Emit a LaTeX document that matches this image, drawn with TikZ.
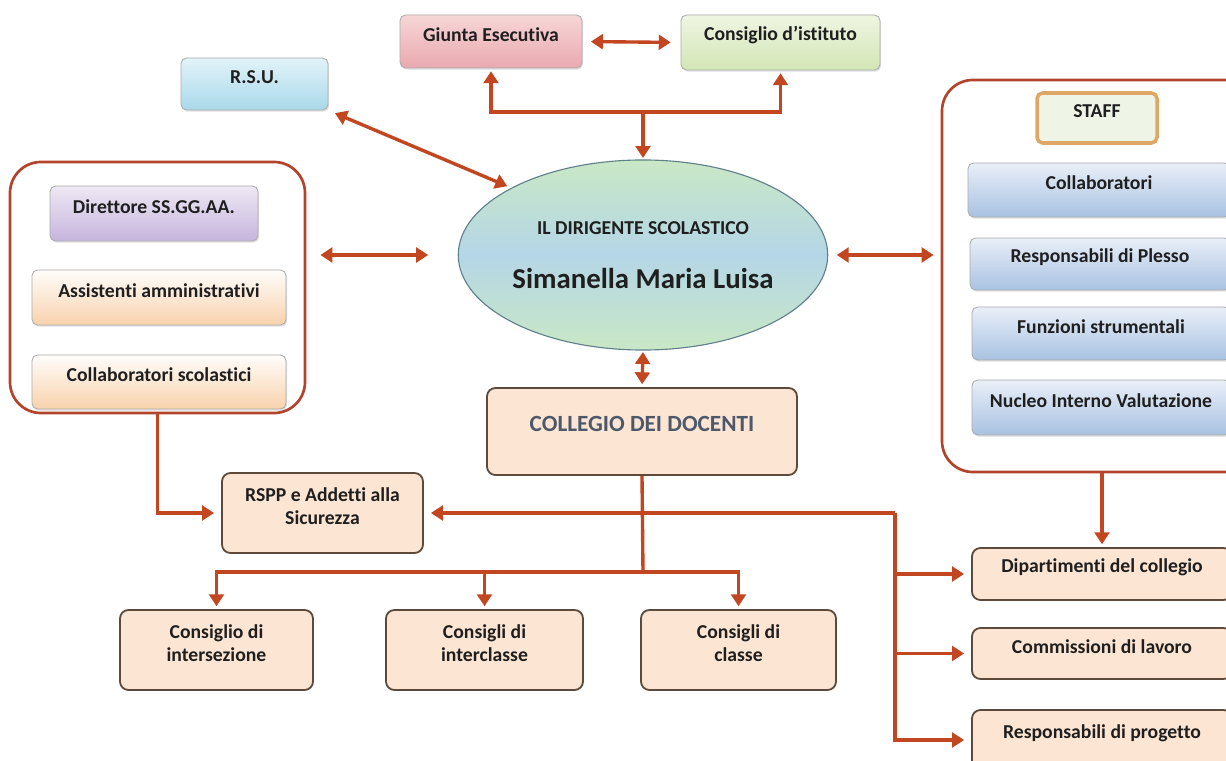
\documentclass[tikz,border=0pt]{standalone}
\usepackage{fontspec}
\setmainfont{Carlito}[Ligatures=NoCommon]
\usetikzlibrary{arrows.meta,shapes.geometric,fit,shadows}
\definecolor{arrc}{HTML}{C2461F}
\definecolor{grpc}{HTML}{B3432A}
\definecolor{peach}{HTML}{FCE6D3}
\definecolor{brn}{HTML}{5E4A3A}
\definecolor{slate}{HTML}{4D596B}
\begin{document}
\begin{tikzpicture}[x=0.025cm,y=-0.025cm,
  every node/.style={font=\bfseries\fontsize{14}{16.5}\selectfont, text=black!88, align=center, inner sep=0pt},
  gbox/.style={rectangle, rounded corners=4pt, draw=gray!65, line width=0.6pt,
     drop shadow={opacity=0.25, shadow xshift=0.8pt, shadow yshift=-1.2pt}},
  pbox/.style={rectangle, rounded corners=6pt, draw=brn, line width=1.3pt, fill=peach},
  grp/.style={rectangle, rounded corners=22pt, draw=grpc, line width=1.9pt, fill=white},
  ln/.style={draw=arrc, line width=2.4pt},
  arr/.style={ln, -{Triangle[length=8.5pt,width=10.5pt]}},
  darr/.style={ln, {Triangle[length=8.5pt,width=10.5pt]}-{Triangle[length=8.5pt,width=10.5pt]}},
]
\fill[white] (0,0) rectangle (1226,761);
\useasboundingbox (0,0) rectangle (1226,761);

% top row
\node[gbox, top color={rgb,255:red,247;green,214;blue,214}, bottom color={rgb,255:red,233;green,169;blue,176}, fit={(400,15) (582,68)}] (giunta) {Giunta Esecutiva\\[8pt]};
\node[gbox, top color={rgb,255:red,238;green,245;blue,226}, bottom color={rgb,255:red,211;green,230;blue,181}, fit={(681,15) (880,70)}] (consiglio) {Consiglio d’istituto\\[8pt]};
\node[gbox, top color={rgb,255:red,226;green,243;blue,249}, bottom color={rgb,255:red,169;green,217;blue,234}, fit={(181,58) (328,110)}] (rsu) {R.S.U.\\[4pt]};

% left group
\node[grp, fit={(10,162) (305,413)}] (leftgrp) {};
\node[gbox, top color={rgb,255:red,238;green,232;blue,244}, bottom color={rgb,255:red,198;green,181;blue,221}, fit={(50,186) (258,241)}] (direttore) {Direttore SS.GG.AA.\\[6pt]};
\node[gbox, top color={rgb,255:red,255;green,253;blue,251}, bottom color={rgb,255:red,248;green,210;blue,172}, fit={(32,270) (286,325)}] (assist) {Assistenti amministrativi\\[6pt]};
\node[gbox, top color={rgb,255:red,255;green,253;blue,251}, bottom color={rgb,255:red,248;green,210;blue,172}, fit={(32,355) (286,409)}] (collscol) {Collaboratori scolastici\\[6pt]};

% ellipse
\node[ellipse, draw={rgb,255:red,96;green,128;blue,140}, line width=0.8pt,
  top color={rgb,255:red,201;green,232;blue,198}, bottom color={rgb,255:red,201;green,232;blue,198},
  middle color={rgb,255:red,181;green,214;blue,230},
  minimum width=9.15cm, minimum height=4.75cm] (ell) at (643,255)
  {{\fontsize{14}{16.5}\selectfont IL DIRIGENTE SCOLASTICO}\\[22pt]{\fontsize{20.5}{24}\selectfont Simanella Maria Luisa}};

% right group
\node[grp, fit={(942,80) (1262,472)}] (staffgrp) {};
\node[rectangle, rounded corners=4pt, draw={rgb,255:red,223;green,167;blue,101}, line width=2.5pt,
  fill={rgb,255:red,239;green,245;blue,230}, fit={(1037,93) (1157,143)}] (staff) {STAFF\\[4pt]};
\node[gbox, top color={rgb,255:red,233;green,239;blue,248}, bottom color={rgb,255:red,169;green,194;blue,226}, fit={(968,163) (1230,217)}] (collab) {Collaboratori\\[6pt]};
\node[gbox, top color={rgb,255:red,233;green,239;blue,248}, bottom color={rgb,255:red,169;green,194;blue,226}, fit={(970,238) (1230,290)}] (plesso) {Responsabili di Plesso\\[6pt]};
\node[gbox, top color={rgb,255:red,233;green,239;blue,248}, bottom color={rgb,255:red,169;green,194;blue,226}, fit={(972,307) (1230,360)}] (funz) {Funzioni strumentali\\[6pt]};
\node[gbox, top color={rgb,255:red,233;green,239;blue,248}, bottom color={rgb,255:red,169;green,194;blue,226}, fit={(972,380) (1230,435)}] (nucleo) {Nucleo Interno Valutazione\\[4pt]};

% collegio and lower boxes
\node[pbox, fit={(487,388) (797,475)}, font=\bfseries\fontsize{16.5}{19}\selectfont, text=slate] (collegio) {COLLEGIO DEI DOCENTI};
\node[pbox, fit={(222,473) (423,553)}] (rspp) {RSPP e Addetti alla\\Sicurezza\\[10pt]};
\node[pbox, fit={(120,610) (313,690)}] (b1) {Consiglio di\\intersezione\\[6pt]};
\node[pbox, fit={(386,610) (583,690)}] (b2) {Consigli di\\interclasse\\[6pt]};
\node[pbox, fit={(641,610) (836,690)}] (b3) {Consigli di\\classe\\[6pt]};
\node[pbox, fit={(972,548) (1232,600)}] (dip) {Dipartimenti del collegio\\[2pt]};
\node[pbox, fit={(972,628) (1232,679)}] (com) {Commissioni di lavoro\\[2pt]};
\node[pbox, fit={(972,710) (1232,770)}] (resp) {Responsabili di progetto\\[10pt]};

% connectors
\draw[darr, shorten <=6pt, shorten >=7pt] (giunta.east) -- (consiglio.west);
\coordinate (tbus) at (643,112);
\draw[arr, shorten >=2pt] (tbus) -| (giunta.south);
\draw[arr, shorten >=2pt] (tbus) -| (consiglio.south);
\draw[arr, shorten >=1pt] (tbus) -- (ell.north);
\draw[darr, shorten <=5pt, shorten >=3pt] (rsu.south east) -- (ell.153);
\draw[darr, shorten <=10pt, shorten >=21pt] (ell.west -| leftgrp.east) -- (ell.west);
\draw[darr, shorten <=6pt, shorten >=5pt] (ell.east) -- (ell.east -| staffgrp.west);
\draw[darr, shorten <=1pt, shorten >=2pt] (ell.south) -- (collegio.north);
\draw[arr, shorten >=5pt] (leftgrp.south) |- (rspp.west);
\coordinate (bbus) at (643,572);
\draw[ln] (collegio.south) -- (bbus);
\draw[arr, shorten >=2pt] (bbus) -| (b1.north);
\draw[arr, shorten >=2pt] (bbus) -| (b2.north);
\draw[arr, shorten >=2pt] (bbus) -| (b3.north);
\coordinate (rbus) at (895,513);
\draw[arr, shorten >=5pt] (rbus) -- (rspp.east);
\draw[arr, shorten >=5pt] (rbus) |- (dip.west);
\draw[arr, shorten >=5pt] (rbus) |- (com.west);
\draw[arr, shorten >=5pt] (rbus) |- (resp.west);
\draw[arr, shorten >=2pt] (staffgrp.south) -- (dip.north);
\end{tikzpicture}
\end{document}
